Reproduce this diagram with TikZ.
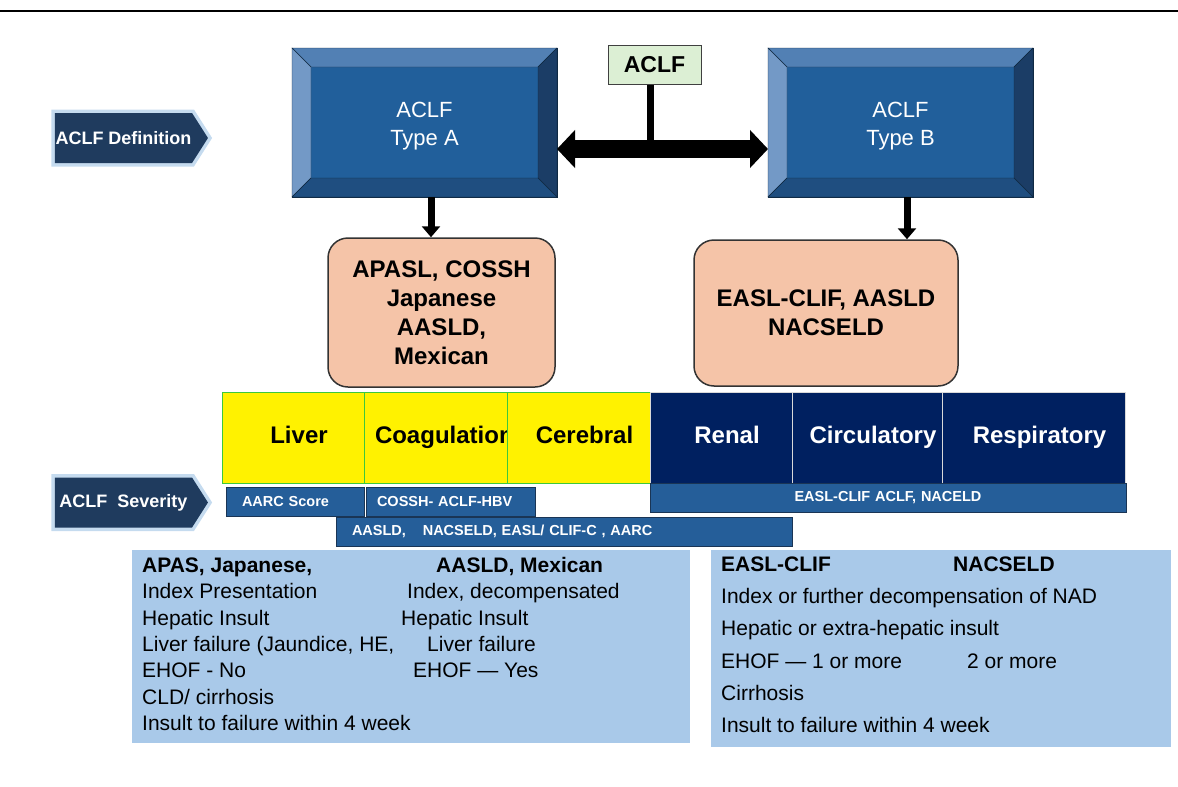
\documentclass[tikz,border=0pt]{standalone}
\usepackage{fontspec}
\setmainfont{Liberation Sans}
\usetikzlibrary{positioning, arrows.meta, shapes.symbols}

\definecolor{bevin}{HTML}{215F9B}
\definecolor{bevtop}{HTML}{5280B4}
\definecolor{bevleft}{HTML}{7399C6}
\definecolor{bevright}{HTML}{1B3D66}
\definecolor{bevbot}{HTML}{1F4E80}
\definecolor{bevline}{HTML}{0F2840}
\definecolor{chevfill}{HTML}{1F3B5E}
\definecolor{chevglow}{HTML}{C5DBEF}
\definecolor{aclfgreen}{HTML}{DCEFD4}
\definecolor{peach}{HTML}{F5C4A8}
\definecolor{cellnavy}{HTML}{002060}
\definecolor{cellgreen}{HTML}{3CC83C}
\definecolor{barblue}{HTML}{255E99}
\definecolor{barline}{HTML}{1A3555}
\definecolor{paleblue}{HTML}{A9C9E9}

\begin{document}
\begin{tikzpicture}[x=1pt, y=-1pt, >=stealth,
  chevron/.style={signal, signal to=east, signal pointer angle=115, fill=chevfill,
    text=white, font={\fontsize{18}{20}\selectfont\bfseries}, minimum width=153pt,
    minimum height=50pt, inner sep=0pt, preaction={draw=chevglow, line width=7pt}},
  typebox/.style={rectangle, fill=bevin, draw=bevline, line width=1pt, outer sep=0pt,
    minimum width=265pt, minimum height=149pt},
  typetxt/.style={text=white, align=center, font={\fontsize{22}{28}\selectfont}},
  orgbox/.style={rectangle, rounded corners=20pt, fill=peach, draw=black!80, line width=1.5pt,
    align=center, font={\fontsize{24}{29}\selectfont\bfseries}},
  cell/.style={rectangle, minimum height=91pt, inner sep=0pt, outer sep=0pt, line width=1pt,
    text height=17pt, text depth=5pt, font={\fontsize{24}{28}\selectfont\bfseries},
    execute at begin node={\hspace{12pt}}},
  yelcell/.style={cell, fill=yellow, draw=cellgreen},
  navcell/.style={cell, fill=cellnavy, draw=black!15!white, text=white},
  sevbar/.style={rectangle, fill=barblue, draw=barline, line width=1pt, anchor=west,
    minimum height=29pt, inner ysep=0pt, outer sep=0pt, text=white, align=left,
    font={\fontsize{14.5}{17}\selectfont\bfseries}},
  infobox/.style={rectangle, fill=paleblue, outer sep=0pt},
  infotxt/.style={anchor=west, inner sep=0pt, text height=15pt, text depth=4pt,
    font={\fontsize{21}{25}\selectfont}},
  downarr/.style={-{Triangle[width=18pt,length=11pt]}, line width=7pt},
  bigarr/.style={{Triangle[width=37pt,length=18pt]}-{Triangle[width=37pt,length=18pt]}, line width=18pt}
]
  \useasboundingbox (0,0) rectangle (1178,787);

  % top rule
  \draw[line width=2pt] (0,11) -- (1178,11);

  % side labels
  \node[chevron] (defchev) at (123.5,138) {ACLF Definition};
  \node[chevron] (sevchev) at (123.5,502.5) {ACLF\ \ Severity};

  % type boxes with bevel
  \node[typebox] (typeA) at (424.5,122.5) {};
  \node[typebox] (typeB) at (900.5,122.5) {};
  \foreach \b in {typeA,typeB} {
    \filldraw[fill=bevtop, draw=bevline] (\b.north west) -- (\b.north east)
      -- ([shift={(-19,19)}]\b.north east) -- ([shift={(19,19)}]\b.north west) -- cycle;
    \filldraw[fill=bevleft, draw=bevline] (\b.north west) -- ([shift={(19,19)}]\b.north west)
      -- ([shift={(19,-19)}]\b.south west) -- (\b.south west) -- cycle;
    \filldraw[fill=bevright, draw=bevline] (\b.north east) -- ([shift={(-19,19)}]\b.north east)
      -- ([shift={(-19,-19)}]\b.south east) -- (\b.south east) -- cycle;
    \filldraw[fill=bevbot, draw=bevline] (\b.south west) -- ([shift={(19,-19)}]\b.south west)
      -- ([shift={(-19,-19)}]\b.south east) -- (\b.south east) -- cycle;
  }
  \node[typetxt] (typeAtxt) at ([shift={(0,4)}]typeA.center) {ACLF\\Type A};
  \node[typetxt] (typeBtxt) at ([shift={(0,4)}]typeB.center) {ACLF\\Type B};

  % ACLF box and double arrow
  \node[rectangle, fill=aclfgreen, draw=black!75, line width=1pt, minimum width=93pt,
    minimum height=39pt, font={\fontsize{23}{26}\selectfont\bfseries}] (aclf) at (654.5,64.5) {ACLF};
  \coordinate (arrL) at ([shift={(0,26.5)}]typeA.east);
  \coordinate (arrR) at ([shift={(0,26.5)}]typeB.west);
  \coordinate (stemTop) at ([xshift=-4.5pt]aclf.south);
  \draw[line width=7pt] (stemTop) -- (stemTop |- arrL);
  \draw[bigarr] (arrL) -- (arrR);

  % criteria boxes
  \node[orgbox, minimum width=227pt, minimum height=149pt] (orgA) at (441.5,312.5)
    {APASL, COSSH\\Japanese\\AASLD,\\Mexican};
  \node[orgbox, minimum width=264pt, minimum height=146pt] (orgB) at (826,313)
    {EASL-CLIF, AASLD\\NACSELD};
  \draw[downarr] ([xshift=6.5pt]typeA.south) -- ([xshift=-10.5pt]orgA.north);
  \draw[downarr] ([xshift=6.5pt]typeB.south) -- ([xshift=81pt]orgB.north);

  % organ failure row
  \node[yelcell, minimum width=142pt] (liver) at (293,437.5) {Liver};
  \node[yelcell, minimum width=143pt, right=0pt of liver] (coag)
    {\makebox[131pt][l]{\hspace{-1pt}Coagulation}};
  \node[yelcell, minimum width=143pt, right=0pt of coag] (cereb) {Cerebral};
  \node[navcell, minimum width=142pt, right=0pt of cereb] (renal) {Renal};
  \node[navcell, minimum width=150pt, right=0pt of renal] (circ) {Circulatory};
  \node[navcell, minimum width=183pt, right=0pt of circ] (resp) {Respiratory};

  % severity scores
  \node[sevbar, text width=106pt, inner xsep=16pt] (aarc) at (226,501.5) {AARC Score};
  \node[sevbar, text width=147pt, inner xsep=11pt, right=2pt of aarc] (cossh) {COSSH- ACLF-HBV};
  \node[sevbar, text width=446pt, inner xsep=15pt, align=center] (easlbar) at (650,497.5)
    {EASL-CLIF ACLF, NACELD};
  \node[sevbar, text width=424pt, inner xsep=16pt] (aasldbar) at (336,531.5)
    {AASLD,\hspace{12pt} NACSELD, EASL/ CLIF-C , AARC};

  % definitions
  \node[infobox, minimum width=558pt, minimum height=193pt] (leftinfo) at (411,646.5) {};
  \node[infobox, minimum width=460pt, minimum height=197pt] (rightinfo) at (941,648.5) {};
  \foreach \t [count=\i] in {{\textbf{APAS, Japanese,}}, {Index Presentation}, {Hepatic Insult},
      {Liver failure (Jaundice, HE,}, {EHOF - No}, {CLD/ cirrhosis}, {Insult to failure within 4 week}}
    \node[infotxt] (apas\i) at (142,{567+26.3*(\i-1)}) {\t};
  \foreach \x/\t [count=\i] in {436/{\textbf{AASLD, Mexican}}, 407/{Index, decompensated},
      401/{Hepatic Insult}, 427/{Liver failure}, 413/{EHOF — Yes}}
    \node[infotxt] (mex\i) at (\x,{567+26.3*(\i-1)}) {\t};
  \foreach \t [count=\i] in {{\textbf{EASL-CLIF}}, {Index or further decompensation of NAD},
      {Hepatic or extra-hepatic insult}, {EHOF — 1 or more}, {Cirrhosis}, {Insult to failure within 4 week}}
    \node[infotxt] (easl\i) at (721,{566+32.2*(\i-1)}) {\t};
  \node[infotxt] (nacs1) at (953,566) {\textbf{NACSELD}};
  \node[infotxt] (nacs4) at (967,662.6) {2 or more};
\end{tikzpicture}
\end{document}
